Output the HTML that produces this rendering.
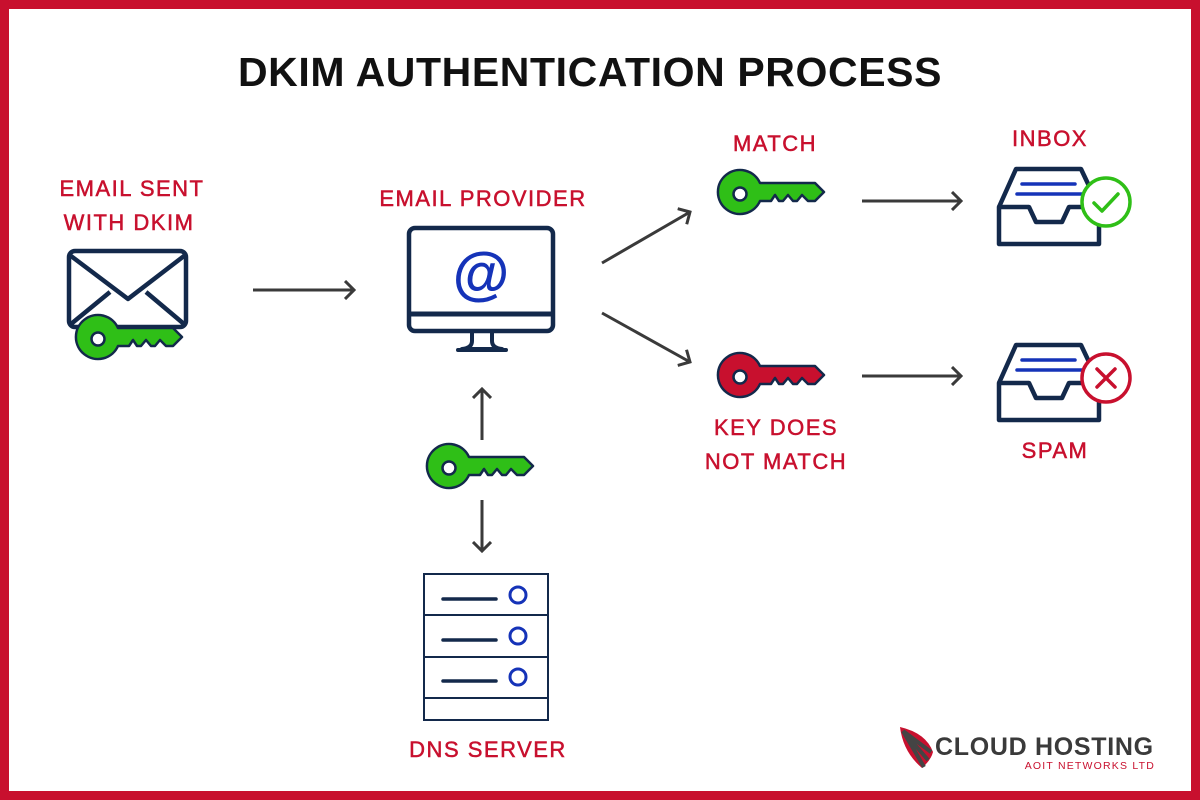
<!DOCTYPE html>
<html><head><meta charset="utf-8"><style>
html,body{margin:0;padding:0;background:#fff}
svg{display:block}
text{font-family:"Liberation Sans",sans-serif}
</style></head><body>
<svg width="1200" height="800" viewBox="0 0 1200 800" xmlns="http://www.w3.org/2000/svg">
<defs>
<g id="keyshape">
<path d="M15,-9 L70,-9 L79,0 L70,9 L63,9 L57,3 L52,9 L48,9 L43,3 L38,9 L34,9 L30,3 L26,9 L15,9 A22,22 0 1 1 15,-9 Z" stroke="#13294b" stroke-width="2.5" stroke-linejoin="round"/>
<circle cx="-5" cy="2" r="6.5" fill="#fff" stroke="#13294b" stroke-width="2.5"/>
</g>
<g id="tray" fill="none" stroke="#13294b" stroke-width="4.5" stroke-linejoin="round">
<path d="M999,207 L1016,169 L1081,169 L1099,207"/>
<path d="M999,207 L1029,207 L1036,222 L1062,222 L1069,207 L1099,207 L1099,244 L999,244 Z"/>
</g>
<marker id="ah" viewBox="0 0 12 20" refX="10" refY="10" markerWidth="12" markerHeight="20" markerUnits="userSpaceOnUse" orient="auto">
<path d="M1,1 L10,10 L1,19" fill="none" stroke="#3a3a3a" stroke-width="3"/>
</marker>
</defs>
<rect x="4.5" y="4.5" width="1191" height="791" fill="#fff" stroke="#c8102e" stroke-width="9"/>
<text x="590" y="86" text-anchor="middle" font-size="41" font-weight="bold" fill="#111" letter-spacing="0.6">DKIM AUTHENTICATION PROCESS</text>

<g font-size="22" fill="#c8102e" stroke="#c8102e" stroke-width="0.5" text-anchor="middle" letter-spacing="1.5">
<text x="132" y="196">EMAIL SENT</text>
<text x="129" y="230">WITH DKIM</text>
<text x="483" y="206">EMAIL PROVIDER</text>
<text x="775" y="151">MATCH</text>
<text x="776" y="435">KEY DOES</text>
<text x="776" y="469">NOT MATCH</text>
<text x="1050" y="146">INBOX</text>
<text x="1055" y="458">SPAM</text>
<text x="488" y="757">DNS SERVER</text>
</g>

<!-- envelope -->
<rect x="69" y="251" width="117" height="76" rx="6" fill="#fff" stroke="#13294b" stroke-width="4.5"/>
<path d="M71,256 L128,299 L184,256 M71,324 L110,292 M184,324 L146,292" fill="none" stroke="#13294b" stroke-width="4.5" stroke-linejoin="round"/>
<use href="#keyshape" fill="#2fbf17" transform="translate(103,337)"/>

<!-- monitor -->
<rect x="409" y="228" width="144" height="103" rx="6" fill="#fff" stroke="#13294b" stroke-width="4.5"/>
<line x1="409" y1="314" x2="553" y2="314" stroke="#13294b" stroke-width="5"/>
<path d="M472,333 L472,341 Q472,348 462,349 L502,349 Q492,348 492,341 L492,333" fill="none" stroke="#13294b" stroke-width="4" stroke-linejoin="round"/>
<line x1="458" y1="350" x2="506" y2="350" stroke="#13294b" stroke-width="4" stroke-linecap="round"/>
<text x="481" y="293" text-anchor="middle" font-size="58" font-weight="bold" fill="#1533b8">@</text>

<!-- keys -->
<use href="#keyshape" fill="#2fbf17" transform="translate(745,192)"/>
<use href="#keyshape" fill="#c8102e" transform="translate(745,375)"/>
<use href="#keyshape" fill="#2fbf17" transform="translate(454,466)"/>

<!-- server -->
<g fill="none" stroke="#13294b" stroke-width="2">
<rect x="424" y="574" width="124" height="146"/>
<line x1="424" y1="615" x2="548" y2="615"/>
<line x1="424" y1="657" x2="548" y2="657"/>
<line x1="424" y1="698" x2="548" y2="698"/>
</g>
<g stroke="#13294b" stroke-width="3.5" stroke-linecap="round">
<line x1="443" y1="599" x2="496" y2="599"/>
<line x1="443" y1="640" x2="496" y2="640"/>
<line x1="443" y1="681" x2="496" y2="681"/>
</g>
<g fill="none" stroke="#1533b8" stroke-width="3">
<circle cx="518" cy="595" r="8"/>
<circle cx="518" cy="636" r="8"/>
<circle cx="518" cy="677" r="8"/>
</g>

<!-- inbox -->
<use href="#tray"/>
<line x1="1022" y1="184" x2="1075" y2="184" stroke="#1533b8" stroke-width="3.5" stroke-linecap="round"/>
<line x1="1017" y1="194" x2="1085" y2="194" stroke="#1533b8" stroke-width="3.5" stroke-linecap="round"/>
<circle cx="1106" cy="202" r="24" fill="#fff" stroke="#2fbf17" stroke-width="3.5"/>
<path d="M1094,203 L1102,211 L1118,194" fill="none" stroke="#2fbf17" stroke-width="3.5" stroke-linecap="round" stroke-linejoin="round"/>

<!-- spam -->
<use href="#tray" transform="translate(0,176)"/>
<line x1="1022" y1="360" x2="1075" y2="360" stroke="#1533b8" stroke-width="3.5" stroke-linecap="round"/>
<line x1="1017" y1="370" x2="1085" y2="370" stroke="#1533b8" stroke-width="3.5" stroke-linecap="round"/>
<circle cx="1106" cy="378" r="24" fill="#fff" stroke="#c8102e" stroke-width="3.5"/>
<path d="M1097,369 L1115,387 M1115,369 L1097,387" stroke="#c8102e" stroke-width="3.5" stroke-linecap="round"/>

<!-- arrows -->
<g stroke="#3a3a3a" stroke-width="3" fill="none" marker-end="url(#ah)">
<line x1="253" y1="290" x2="354" y2="290"/>
<line x1="602" y1="263" x2="690" y2="212"/>
<line x1="602" y1="313" x2="690" y2="362"/>
<line x1="862" y1="201" x2="961" y2="201"/>
<line x1="862" y1="376" x2="961" y2="376"/>
<line x1="482" y1="440" x2="482" y2="389"/>
<line x1="482" y1="500" x2="482" y2="551"/>
</g>

<!-- logo -->
<path d="M900,727 Q926,733 933,752 Q931,760 922,768 Q903,752 900,727 Z" fill="#c8102e"/>
<path d="M903,731 L924,767 M903,731 L931,752 M903,731 L928,760" stroke="#444" stroke-width="4"/>
<text x="935" y="755" font-size="25" font-weight="bold" fill="#3a3a3a" letter-spacing="0.7">CLOUD HOSTING</text>
<text x="1155" y="769" text-anchor="end" font-size="10.5" fill="#c8102e" letter-spacing="1.2">AOIT NETWORKS LTD</text>
</svg>
</body></html>
